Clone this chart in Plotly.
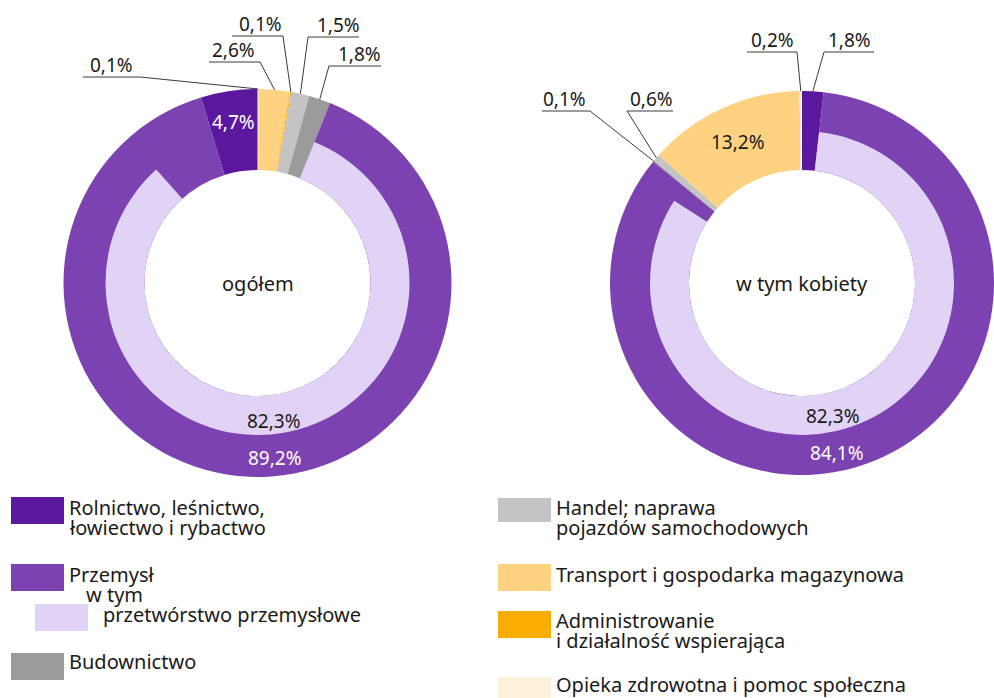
import math
import plotly.graph_objects as go

W, H = 994, 698

# ---------------- data ----------------
keys = ["rol", "prz", "bud", "han", "adm", "tra", "opi"]
sector_names = [
    "Rolnictwo, leśnictwo, łowiectwo i rybactwo",
    "Przemysł",
    "Budownictwo",
    "Handel; naprawa pojazdów samochodowych",
    "Administrowanie i działalność wspierająca",
    "Transport i gospodarka magazynowa",
    "Opieka zdrowotna i pomoc społeczna",
]
ogolem = [4.7, 89.2, 1.8, 1.5, 0.1, 2.6, 0.1]
kobiety = [1.8, 84.1, 0.1, 0.6, 0.0, 13.2, 0.2]
przetworstwo_ogolem = 82.3
przetworstwo_kobiety = 82.3
center_titles = ["ogółem", "w tym kobiety"]

# ---------------- style ----------------
colors = {
    "rol": "#5b189e",
    "prz": "#7d42b1",
    "bud": "#9b9b9b",
    "han": "#c4c4c4",
    "adm": "#f9ad00",
    "tra": "#fed280",
    "opi": "#fff0d9",
}
lav = "#e1d3f5"
FONT = "Noto Sans"
TXT = "#1a1a1a"
LINE = "#3a3a3a"
FS_LAB = 19
FS_LEG = 20

# geometry (px, y downwards); all slices drawn clockwise from 12 o'clock
charts = [
    dict(cx=257.5, cy=283, r=194, rin=152, rh=113, reverse=True),
    dict(cx=802, cy=283, r=192, rin=152, rh=113, reverse=False),
]


def px(x, y):
    return x / W, 1 - y / H


def dom(cx, cy, r):
    return dict(x=[max(0, (cx - r) / W), min(1, (cx + r) / W)],
                y=[max(0, 1 - (cy + r) / H), min(1, 1 - (cy - r) / H)])


def fmt(v):
    return f"{v:.1f}".replace(".", ",") + "%"


def polar(g, ang_deg, radius):
    a = math.radians(ang_deg)
    return g["cx"] + radius * math.sin(a), g["cy"] - radius * math.cos(a)


def slice_angle(order_vals, idx):
    tot = sum(order_vals)
    cum = sum(order_vals[:idx]) + order_vals[idx] / 2
    return 360.0 * cum / tot


fig = go.Figure()
annotations = []
shapes = []

datasets = [(ogolem, przetworstwo_ogolem), (kobiety, przetworstwo_kobiety)]
orders = []
for g, (vals, przetw) in zip(charts, datasets):
    order = keys[::-1] if g["reverse"] else keys[:]
    vmap = dict(zip(keys, vals))
    ovals = [vmap[k] for k in order]
    orders.append((order, ovals))
    fig.add_trace(go.Pie(
        values=ovals, labels=order, sort=False, direction="clockwise", rotation=0,
        hole=g["rh"] / g["r"], marker=dict(colors=[colors[k] for k in order], line=dict(width=0)),
        textinfo="none", hoverinfo="skip", showlegend=False,
        domain=dom(g["cx"], g["cy"], g["r"]),
    ))
    rest = sum(vals) - vmap["rol"] - vmap["prz"]
    gap = vmap["rol"] + vmap["prz"] - przetw
    if g["reverse"]:
        inner = [rest, przetw, gap]
    else:
        inner = [vmap["rol"], przetw, sum(vals) - vmap["rol"] - przetw]
    fig.add_trace(go.Pie(
        values=inner, labels=["a", "p", "b"], sort=False,
        direction="clockwise", rotation=0, hole=g["rh"] / g["rin"],
        marker=dict(colors=["rgba(0,0,0,0)", lav, "rgba(0,0,0,0)"], line=dict(width=0)),
        textinfo="none", hoverinfo="skip", showlegend=False,
        domain=dom(g["cx"], g["cy"], g["rin"]),
    ))


def ann(x_px, y_px, text, size, color, xanchor="center"):
    x, y = px(x_px, y_px)
    annotations.append(dict(x=x, y=y, xref="paper", yref="paper", text=text, showarrow=False,
                            xanchor=xanchor, yanchor="middle", borderpad=0,
                            font=dict(family=FONT, size=size, color=color)))


# center titles
for g, t in zip(charts, center_titles):
    ann(g["cx"], g["cy"], t, FS_LEG, TXT)

# small outside labels: (chart, key, text centre x, underline x0, x1, underline y, joint side)
outside = [
    (0, "opi", 111, 83, 140, 77, "r"),
    (0, "tra", 233, 209, 260, 62, "r"),
    (0, "adm", 260, 232, 283, 36, "r"),
    (0, "han", 338, 308, 359, 37, "l"),
    (0, "bud", 359, 329, 381, 66, "l"),
    (1, "opi", 772, 747, 797, 52, "r"),
    (1, "rol", 849, 824, 874, 52, "l"),
    (1, "bud", 564, 542, 590, 111, "r"),
    (1, "han", 651, 627, 673, 111, "l"),
]
for ci, k, tx, x0, x1, uy, side in outside:
    g = charts[ci]
    order, ovals = orders[ci]
    idx = order.index(k)
    sx, sy = polar(g, slice_angle(ovals, idx), g["r"])
    jx = x1 if side == "r" else x0
    for (ax, ay, bx, by) in [(x0, uy, x1, uy), (jx, uy, sx, sy)]:
        a = px(ax, ay)
        b = px(bx, by)
        shapes.append(dict(type="line", xref="paper", yref="paper", x0=a[0], y0=a[1], x1=b[0], y1=b[1],
                           line=dict(color=LINE, width=1)))
    ann(tx, uy - 12, fmt(ovals[idx]), FS_LAB, TXT)

# inside labels: (chart, source, angle override (deg clockwise) or None, radius, colour)
inside = [
    (0, "rol", None, 163, "white"),
    (0, "prz", 174.3, 176, "white"),
    (0, "przetw", 173.2, 139, TXT),
    (1, "tra", None, 155, TXT),
    (1, "przetw", 166.9, 137, TXT),
    (1, "prz", 168.3, 174, "white"),
]
for ci, src, ang, rad, col in inside:
    g = charts[ci]
    order, ovals = orders[ci]
    if src == "przetw":
        v = datasets[ci][1]
    else:
        v = ovals[order.index(src)]
    if ang is None:
        ang = slice_angle(ovals, order.index(src))
    x_, y_ = polar(g, ang, rad)
    ann(x_, y_, fmt(v), FS_LAB, col)

# custom legend
legend_items = [
    (colors["rol"], 11, 497, 64, 524, [(68, 507, "Rolnictwo, leśnictwo,"), (68, 527, "łowiectwo i rybactwo")]),
    (colors["prz"], 11, 564, 64, 591, [(68, 574, "Przemysł"), (85, 594, "w tym")]),
    (lav, 35, 604, 88, 631, [(102, 614, "przetwórstwo przemysłowe")]),
    (colors["bud"], 11, 653, 64, 680, [(68, 661, "Budownictwo")]),
    (colors["han"], 498, 498, 551, 522, [(555, 507, "Handel; naprawa"), (555, 527, "pojazdów samochodowych")]),
    (colors["tra"], 498, 564, 551, 591, [(555, 574, "Transport i gospodarka magazynowa")]),
    (colors["adm"], 498, 611, 551, 638, [(555, 620, "Administrowanie"), (555, 640, "i działalność wspierająca")]),
    (colors["opi"], 498, 677, 551, 698, [(555, 684, "Opieka zdrowotna i pomoc społeczna")]),
]
for col, bx0, by0, bx1, by1, lines in legend_items:
    a = px(bx0, by0)
    b = px(bx1, by1)
    shapes.append(dict(type="rect", xref="paper", yref="paper", x0=a[0], y0=a[1], x1=b[0], y1=b[1],
                       fillcolor=col, line=dict(width=0)))
    for lx, ly, t in lines:
        ann(lx, ly, t, FS_LEG, TXT, xanchor="left")

fig.update_layout(
    width=W, height=H, margin=dict(l=0, r=0, t=0, b=0),
    paper_bgcolor="white", plot_bgcolor="white",
    annotations=annotations, shapes=shapes, showlegend=False,
    font=dict(family=FONT, color=TXT),
)
fig.write_html("out.html")
